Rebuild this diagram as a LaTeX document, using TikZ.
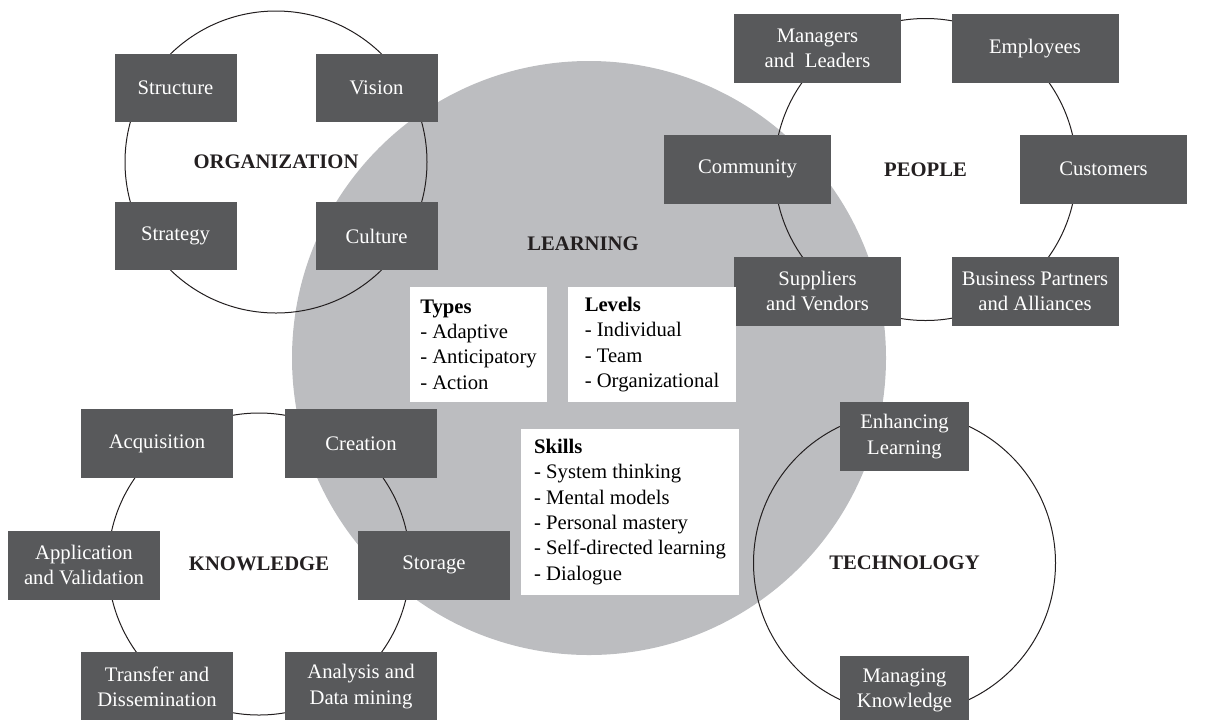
\documentclass[tikz,border=0pt]{standalone}
\usepackage{fontspec}
\setmainfont{Liberation Serif}
\usepackage{tikz}
\usetikzlibrary{shapes}
\usepackage{xcolor}
\definecolor{boxgray}{HTML}{58595B}
\definecolor{learngray}{HTML}{BCBDC0}
\definecolor{inkblack}{HTML}{231F20}

\begin{document}
\begin{tikzpicture}[%
        x=0.75pt, y=-0.75pt,                     % pixel grid, y going down
        font=\fontsize{15.5}{19}\selectfont,     % Times-like text
    ]
    \tikzset{
        base/.style={inner sep=0pt, align=center},
        ring/.style={base, circle, draw=inkblack, line width=0.75pt, minimum size=226.5pt,
            text=inkblack, font={\fontsize{15.5}{19}\selectfont\bfseries}},
        blob/.style={base, circle, fill=learngray, minimum size=445.5pt},
        box/.style={base, rectangle, fill=boxgray, text=white},
        orgbox/.style={box, minimum width=91.5pt, minimum height=51pt},
        pplbox/.style={box, minimum width=125.25pt, minimum height=51.75pt},
        knwbox/.style={box, minimum width=114pt, minimum height=51.75pt},
        tecbox/.style={box, minimum width=96.75pt, minimum height=51.75pt},
        % white boxes with the bulleted lists
        list/.style={base, rectangle, fill=white, align=left, text=black},
        head/.style={base, text=inkblack, font={\fontsize{15.5}{19}\selectfont\bfseries}}
    }
    \useasboundingbox (0,0) rectangle (1206,719);
    %%% Learning disc
    \node [blob] (learning) at (589,358) {};
    \node [head] (learnlabel) at (583,244) {LEARNING};
    %%% Rings
    \node [ring] (org) at (276,162) {ORGANIZATION};
    \node [ring] (people) at (925.5,169.5) {PEOPLE};
    \node [ring] (knowledge) at (259,564) {KNOWLEDGE};
    \node [ring] (tech) at (904.5,563) {TECHNOLOGY};
    %%% Organization
    \node [orgbox] (structure) at (175.5,88) {Structure};
    \node [orgbox] (vision) at (376.5,88) {Vision};
    \node [orgbox] (strategy) at (175.5,236) {Strategy};
    \node [orgbox] (culture) at (376.5,236) {Culture};
    %%% People
    \node [pplbox] (managers) at (817.5,48.5) {Managers\\and~ Leaders};
    \node [pplbox] (employees) at (1035,48.5) {Employees};
    \node [pplbox] (community) at (747.5,169) {Community};
    \node [pplbox] (customers) at (1103.5,169) {Customers};
    \node [pplbox] (suppliers) at (817.5,291) {Suppliers\\and Vendors};
    \node [pplbox] (partners) at (1035,291) {Business Partners\\and Alliances};
    %%% Knowledge
    \node [knwbox] (acquisition) at (157,443.5) {Acquisition};
    \node [knwbox] (creation) at (361,443.5) {Creation};
    \node [knwbox] (application) at (84,565) {Application\\and Validation};
    \node [knwbox] (storage) at (434,565) {Storage};
    \node [knwbox] (transfer) at (157,686.5) {Transfer and\\Dissemination};
    \node [knwbox] (analysis) at (361,686.5) {Analysis and\\Data mining};
    %%% Technology
    \node [tecbox] (enhancing) at (904.5,436.5) {Enhancing\\Learning};
    \node [tecbox] (managing) at (904.5,690.5) {Managing\\Knowledge};
    %%% Lists
    \node [list, minimum width=102.75pt, minimum height=86.25pt] (types) at (478.5,344.5)
        {\textbf{Types}\\- Adaptive\\- Anticipatory\\- Action};
    \node [list, minimum width=126pt, minimum height=86.25pt] (levels) at (652,344.5)
        {\textbf{Levels}\\- Individual\\- Team\\- Organizational};
    \node [list, minimum width=163.5pt, minimum height=124.5pt] (skills) at (630,512)
        {\textbf{Skills}\\- System thinking\\- Mental models\\- Personal mastery\\- Self-directed learning\\- Dialogue};
\end{tikzpicture}
\end{document}
